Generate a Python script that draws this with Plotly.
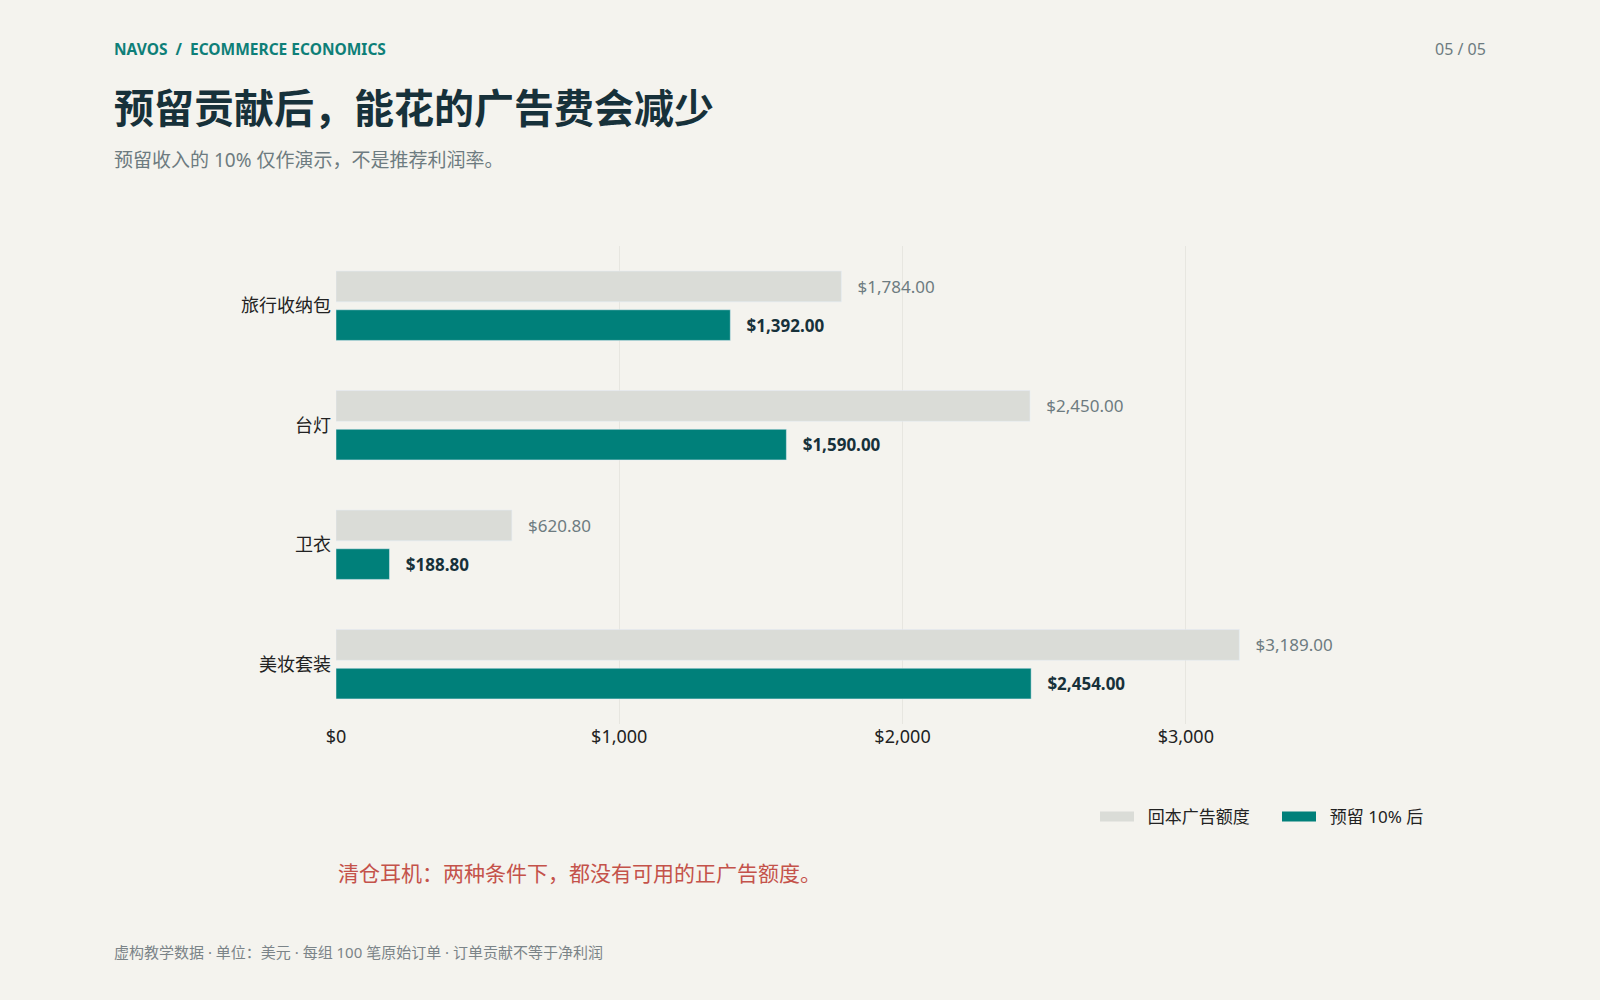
import plotly.graph_objects as go

# data
categories = ["旅行收纳包", "台灯", "卫衣", "美妆套装"]
breakeven_ad = [1784.00, 2450.00, 620.80, 3189.00]
after_reserve = [1392.00, 1590.00, 188.80, 2454.00]
series_names = ["回本广告额度", "预留 10% 后"]

W, H = 1600, 1000
L, R, T, B = 336, 180, 246, 276
PW, PH = W - L - R, H - T - B

def px(x):
    return (x - L) / PW

def py(y):
    return (H - B - y) / PH

BG = "#f4f3ee"
GRAY = "#dadcd7"
TEAL = "#00807a"
DARK = "#17313a"
MUTED = "#6d7b80"
FONT = "Noto Sans, Noto Sans CJK SC, sans-serif"
PAD = "\u00a0\u00a0\u00a0"

fig = go.Figure()
fig.add_trace(go.Bar(
    y=categories, x=breakeven_ad, orientation="h", name=series_names[0],
    marker=dict(color=GRAY), showlegend=False,
    texttemplate=PAD + "%{x:$,.2f}", textposition="outside", constraintext="none",
    textfont=dict(size=17, color=MUTED, family=FONT), cliponaxis=False,
))
fig.add_trace(go.Bar(
    y=categories, x=after_reserve, orientation="h", name=series_names[1],
    marker=dict(color=TEAL), showlegend=False,
    texttemplate=PAD + "<b>%{x:$,.2f}</b>", textposition="outside", constraintext="none",
    textfont=dict(size=17, color=DARK, family=FONT), cliponaxis=False,
))
# legend swatches
for name, col in zip(series_names, [GRAY, TEAL]):
    fig.add_trace(go.Scatter(x=[None], y=[None], mode="lines", name="\u00a0\u00a0" + name,
                             line=dict(color=col, width=12)))

fig.update_layout(
    width=W, height=H,
    margin=dict(l=L, r=R, t=T, b=B),
    paper_bgcolor=BG, plot_bgcolor=BG,
    font=dict(family=FONT, color="#222222"),
    barmode="group", bargap=0.353, bargroupgap=0.207,
    legend=dict(orientation="h", xanchor="left", x=px(1095), yanchor="middle", y=py(817),
                font=dict(size=17, color="#222222"), bgcolor="rgba(0,0,0,0)",
                itemwidth=34, entrywidth=133, tracegroupgap=0),
    xaxis=dict(range=[0, max(breakeven_ad) * 1.2], dtick=1000, tickprefix="$", tickformat=",",
               showgrid=True, gridcolor="#e7e6e0", gridwidth=1, zeroline=False,
               showline=False, ticks="", tickfont=dict(size=18, color="#222222")),
    yaxis=dict(categoryorder="array", categoryarray=categories, autorange="reversed",
               showgrid=False, zeroline=False, showline=False, ticks="",
               ticklabelstandoff=4, tickfont=dict(size=18, color="#222222")),
)

annos = [
    dict(text="<b>NAVOS  /  ECOMMERCE ECONOMICS</b>", x=px(112), y=py(49), xanchor="left",
         font=dict(size=15.5, color="#0e7f78")),
    dict(text="05 / 05", x=px(1488), y=py(49), xanchor="right",
         font=dict(size=16, color=MUTED)),
    dict(text="<b>预留贡献后，能花的广告费会减少</b>", x=px(112), y=py(107), xanchor="left",
         font=dict(size=40, color=DARK)),
    dict(text="预留收入的 10% 仅作演示，不是推荐利润率。", x=px(112), y=py(160), xanchor="left",
         font=dict(size=19, color=MUTED)),
    dict(text="清仓耳机：两种条件下，都没有可用的正广告额度。", x=px(336), y=py(873), xanchor="left",
         font=dict(size=21, color="#c4524a")),
    dict(text="虚构教学数据 · 单位：美元 · 每组 100 笔原始订单 · 订单贡献不等于净利润",
         x=px(112), y=py(952), xanchor="left", font=dict(size=15, color="#7b8488")),
]
for a in annos:
    fig.add_annotation(xref="paper", yref="paper", yanchor="middle", showarrow=False, **a)

fig.write_html("out.html", config={"displayModeBar": False},
               post_script="document.body.style.margin='0';document.body.style.background='%s';" % BG)
